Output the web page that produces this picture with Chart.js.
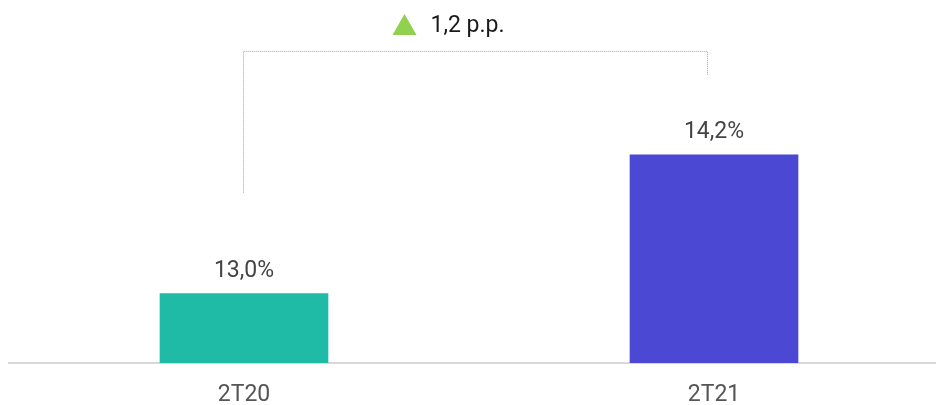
<!DOCTYPE html>
<html>
<head>
    <title>2T20 vs 2T21</title>
    <script src="https://cdn.jsdelivr.net/npm/chart.js"></script>
    <style>
        html, body { margin: 0; padding: 0; background: #fff; }
        #wrap { width: 936px; height: 405px; overflow: hidden; }
    </style>
</head>
<body>
    <div id="wrap">
        <canvas id="myChart" width="950" height="427"></canvas>
    </div>

    <script>
        const categories = ['2T20', '2T21'];
        const values = [13.0, 14.2];
        const barColors = ['#1fbba6', '#4b48d4'];

        const fmt = v => v.toFixed(1).replace('.', ',');

        // value labels, bracket and the delta note on top
        const extras = {
            id: 'extras',
            afterDatasetsDraw(chart) {
                const ctx = chart.ctx;
                const bars = chart.getDatasetMeta(0).data;
                ctx.save();
                ctx.font = '23px Roboto';
                ctx.fillStyle = '#444444';
                ctx.textAlign = 'center';
                ctx.textBaseline = 'alphabetic';
                bars.forEach((b, i) => {
                    ctx.fillText(fmt(values[i]) + '%', b.x, b.y - 17);
                });

                // dotted bracket
                const b1 = bars[0], b2 = bars[1];
                const top = b2.y - 104;
                const lx = b1.x - 0.5, rx = b2.x - 6.5;
                ctx.strokeStyle = '#9aa3c7';
                ctx.lineWidth = 1;
                ctx.setLineDash([1, 1]);
                ctx.beginPath();
                ctx.moveTo(lx, b1.y - 101);
                ctx.lineTo(lx, top + 0.5);
                ctx.lineTo(rx, top + 0.5);
                ctx.lineTo(rx, b2.y - 80);
                ctx.stroke();
                ctx.setLineDash([]);

                // delta note
                const mid = (lx + rx) / 2;
                const tx = mid - 83;
                ctx.fillStyle = '#92d050';
                ctx.beginPath();
                ctx.moveTo(tx, top - 16);
                ctx.lineTo(tx + 24, top - 16);
                ctx.lineTo(tx + 12, top - 37);
                ctx.closePath();
                ctx.fill();
                ctx.fillStyle = '#1a1a1a';
                ctx.textAlign = 'left';
                ctx.font = '23px Roboto';
                ctx.fillText(fmt(values[1] - values[0]) + ' p.p.', tx + 38, top - 19);
                ctx.restore();
            }
        };

        const ctx = document.getElementById('myChart').getContext('2d');
        new Chart(ctx, {
            type: 'bar',
            data: {
                labels: categories,
                datasets: [{
                    data: values,
                    backgroundColor: barColors,
                    barThickness: 168
                }]
            },
            options: {
                responsive: false,
                animation: false,
                layout: { padding: { left: 9, right: 1, top: 0, bottom: 0.4 } },
                plugins: {
                    legend: { display: false },
                    tooltip: { enabled: false }
                },
                scales: {
                    x: {
                        grid: { display: false, drawTicks: false },
                        border: { display: true, color: '#d9d9d9', width: 2 },
                        ticks: {
                            padding: 18,
                            color: '#555555',
                            font: { family: 'Roboto', size: 23 }
                        }
                    },
                    y: {
                        display: false,
                        min: 12.4,
                        max: 15.54
                    }
                }
            },
            plugins: [extras]
        });
    </script>
</body>
</html>
